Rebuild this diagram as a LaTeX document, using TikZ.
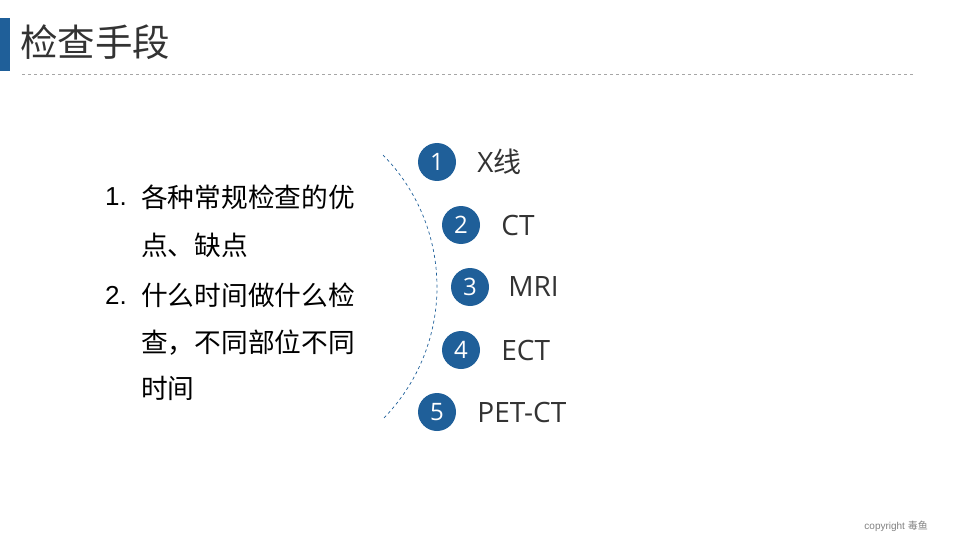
\documentclass[tikz,border=0pt]{standalone}
\usepackage{fontspec}
\setmainfont{Liberation Sans}
\newfontfamily\cjk{Noto Sans CJK SC}
\newfontfamily\lblfont{Open Sans}
\usetikzlibrary{positioning}

\definecolor{headblue}{HTML}{1F5F99}
\definecolor{textgray}{HTML}{333333}
\definecolor{rulegray}{HTML}{A6A6A6}

\begin{document}
\begin{tikzpicture}[x=1pt, y=-1pt]
        % Define styles
        \tikzset{numcirc/.style={circle, fill=headblue, minimum size=38pt, inner sep=0pt, text=white, font=\lblfont\fontsize{24}{28}\selectfont}}
        \tikzset{itemlabel/.style={right=20pt, inner sep=0pt, anchor=west, text=textgray, font=\lblfont\fontsize{28}{32}\selectfont}}
        \tikzset{listline/.style={anchor=west, inner sep=0pt, text=black, font=\cjk\fontsize{26.7}{30}\selectfont}}

        \useasboundingbox (0,0) rectangle (960,540);

        % Title bar
        \fill [headblue] (0,18) rectangle (10,71);
        \node [anchor=west, inner sep=0pt, text=textgray, font=\cjk\fontsize{37.5}{42}\selectfont] (title) at (20,42) {检查手段};
        \draw [rulegray, dashed, line width=0.8pt] (22,74) -- (915,74);

        % Left list
        \node [listline, font=\fontsize{26}{30}\selectfont] (num1) at (105,197) {1.};
        \node [listline] (line1) at (141,197) {各种常规检查的优};
        \node [listline] (line2) at (141,245) {点、缺点};
        \node [listline, font=\fontsize{26}{30}\selectfont] (num2) at (105,295) {2.};
        \node [listline] (line3) at (141,295) {什么时间做什么检};
        \node [listline] (line4) at (141,343) {查，不同部位不同};
        \node [listline] (line5) at (141,388) {时间};

        % Dashed arc
        \draw [headblue, dashed, line width=0.7pt] (383,155) arc [start angle=-44.5, end angle=44.5, radius=188.3];

        % Numbered items
        \node [numcirc] (c1) at (437,162) {1};
        \node [numcirc] (c2) at (461,225) {2};
        \node [numcirc] (c3) at (470,287) {3};
        \node [numcirc] (c4) at (461,350) {4};
        \node [numcirc] (c5) at (437,412) {5};

        \node [itemlabel, right=21pt of c1] (xray) {X\cjk 线};
        \node [itemlabel, right=21pt of c2] (ct) {CT};
        \node [itemlabel, right=19pt of c3] (mri) {MRI};
        \node [itemlabel, right=21pt of c4] (ect) {ECT};
        \node [itemlabel, right=21pt of c5] (petct) {PET-CT};

        % Footer
        \node [anchor=east, inner sep=0pt, text=gray, font=\fontsize{10}{12}\selectfont] (copy) at (928,526) {copyright \cjk 毒鱼};

\end{tikzpicture}
\end{document}
